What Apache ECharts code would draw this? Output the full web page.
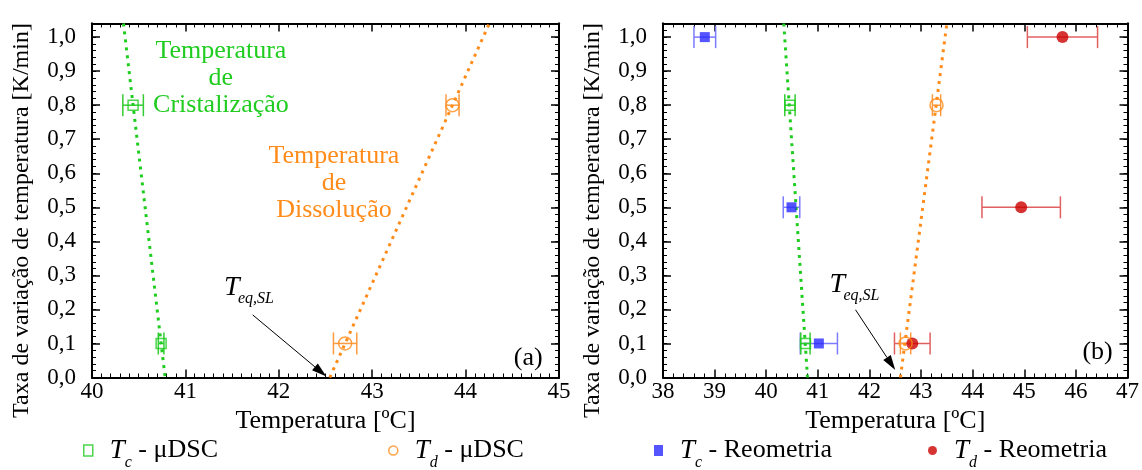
<!DOCTYPE html>
<html>
<head>
<meta charset="utf-8">
<title>Taxa de variação de temperatura</title>
<script src="https://cdn.jsdelivr.net/npm/echarts@6/dist/echarts.min.js"></script>
<style>
  html, body { margin: 0; padding: 0; background: #fff; }
  #chart { width: 1142px; height: 470px; }
</style>
</head>
<body>
<div id="chart"></div>
<script>
// taxas de aquecimento / resfriamento [K/min]
var rateDsc = [0.8, 0.1];
var rateReo = [1.0, 0.5, 0.1];

// painel (a) - uDSC
var tcDscA = [40.44, 40.74];
var tcDscErrA = [0.11, 0.03];
var tdDscA = [43.86, 42.71];
var tdDscErrA = [0.07, 0.125];
var tcFitA = [[40.337, 1.04], [40.783, 0]];
var tdFitA = [[42.546, 0], [44.254, 1.04]];

// painel (b) - uDSC + reometria
var tcDscB = [40.46, 40.76];
var tcDscErrB = [0.1, 0.09];
var tdDscB = [43.3, 42.7];
var tdDscErrB = [0.08, 0.1];
var tcReo = [38.81, 40.49, 41.02];
var tcReoErr = [0.21, 0.16, 0.36];
var tdReo = [45.74, 44.94, 42.83];
var tdReoErr = [0.68, 0.76, 0.345];
var tcFitB = [[40.34, 1.04], [40.80, 0]];
var tdFitB = [[42.60, 0], [43.50, 1.04]];

// anotacoes (coordenadas de dados)
var arrowA = [[41.72, 0.184, 42.51, 0.003]];
var arrowB = [[41.73, 0.199, 42.50, 0.022]];
var teqA = [[41.413, 0.263]];
var teqB = [[41.224, 0.272]];

var xRangeA = [40, 45];
var xRangeB = [38, 47];
var yMax = 1.04;

var FONT = '"Liberation Serif", "Times New Roman", serif';
var GREEN = '#1fcc1f', ORANGE = '#ff8c1a', BLUE = '#2b2bff', RED = '#cc0000';

function pts(xs, ys) {
  return xs.map(function (x, i) { return [x, ys[i]]; });
}
function errPts(xs, ys, es) {
  return xs.map(function (x, i) { return [x, ys[i], es[i]]; });
}

// barra de erro horizontal
function errorBar(params, api) {
  var x = api.value(0), y = api.value(1), e = api.value(2);
  var lo = api.coord([x - e, y]);
  var hi = api.coord([x + e, y]);
  var st = { stroke: api.visual('color'), lineWidth: 1.5 };
  return {
    type: 'group',
    children: [
      { type: 'line', shape: { x1: lo[0], y1: lo[1], x2: hi[0], y2: hi[1] }, style: st },
      { type: 'line', shape: { x1: lo[0], y1: lo[1] - 11, x2: lo[0], y2: lo[1] + 11 }, style: st },
      { type: 'line', shape: { x1: hi[0], y1: hi[1] - 11, x2: hi[0], y2: hi[1] + 11 }, style: st }
    ]
  };
}

function arrow(params, api) {
  var p1 = api.coord([api.value(0), api.value(1)]);
  var p2 = api.coord([api.value(2), api.value(3)]);
  var dx = p2[0] - p1[0], dy = p2[1] - p1[1];
  var len = Math.sqrt(dx * dx + dy * dy);
  var ux = dx / len, uy = dy / len;
  var bx = p2[0] - ux * 15, by = p2[1] - uy * 15;
  return {
    type: 'group',
    children: [
      { type: 'line', shape: { x1: p1[0], y1: p1[1], x2: bx, y2: by }, style: { stroke: '#000', lineWidth: 1 } },
      { type: 'polygon', shape: { points: [[p2[0], p2[1]], [bx - uy * 4.5, by + ux * 4.5], [bx + uy * 4.5, by - ux * 4.5]] }, style: { fill: '#000' } }
    ]
  };
}

function teqLabel(params, api) {
  var p = api.coord([api.value(0), api.value(1)]);
  return {
    type: 'group',
    children: [
      { type: 'text', x: p[0], y: p[1], style: { text: 'T', fill: '#000', fontSize: 28, fontFamily: FONT, fontStyle: 'italic', align: 'left', verticalAlign: 'middle' } },
      { type: 'text', x: p[0] + 14, y: p[1] + 11, style: { text: 'eq,SL', fill: '#000', fontSize: 16, fontFamily: FONT, fontStyle: 'italic', align: 'left', verticalAlign: 'middle' } }
    ]
  };
}

function textLabel(params, api) {
  var p = api.coord([api.value(0), api.value(1)]);
  var it = params.context.items[params.dataIndex];
  return {
    type: 'text', x: p[0], y: p[1],
    style: { text: it.text, fill: it.color, fontSize: it.size, lineHeight: 27, fontFamily: FONT, align: 'center', verticalAlign: 'middle' }
  };
}

function xAxesFor(g, range, minorSplit) {
  var base = {
    gridIndex: g, type: 'value', min: range[0], max: range[1], interval: 1,
    splitLine: { show: false },
    axisLine: { show: true, onZero: false, lineStyle: { color: '#000', width: 2 } },
    axisTick: { inside: true, length: 8, lineStyle: { color: '#000', width: 1.5 } },
    minorTick: { show: true, splitNumber: minorSplit, length: 4, lineStyle: { color: '#000', width: 1 } }
  };
  return [
    Object.assign({}, base, {
      position: 'bottom',
      axisLabel: { color: '#000', fontSize: 23, fontFamily: FONT, margin: 3 },
      name: 'Temperatura [ºC]', nameLocation: 'middle', nameGap: 24,
      nameTextStyle: { color: '#000', fontSize: 26, fontFamily: FONT }
    }),
    Object.assign({}, base, { position: 'top', axisLabel: { show: false } })
  ];
}

function yAxesFor(g) {
  var base = {
    gridIndex: g, type: 'value', min: 0, max: yMax,
    splitLine: { show: false },
    axisLine: { show: true, onZero: false, lineStyle: { color: '#000', width: 2 } },
    axisLabel: { show: false }
  };
  var minor = { interval: 0.02, axisTick: { inside: true, length: 4, lineStyle: { color: '#000', width: 1 } } };
  var major = { interval: 0.1, axisTick: { inside: true, length: 8, lineStyle: { color: '#000', width: 1.5 } } };
  return [
    Object.assign({}, base, minor, {
      position: 'left',
      axisLabel: {
        color: '#000', fontSize: 23, fontFamily: FONT, margin: 16,
        formatter: function (v) {
          if (Math.abs(v * 10 - Math.round(v * 10)) > 1e-6) return '';
          return v.toFixed(1).replace('.', ',');
        }
      },
      name: 'Taxa de variação de temperatura [K/min]', nameLocation: 'middle', nameGap: 58,
      nameTextStyle: { color: '#000', fontSize: 24, fontFamily: FONT, padding: [0, 40, 0, 0] }
    }),
    Object.assign({}, base, major, { position: 'left' }),
    Object.assign({}, base, minor, { position: 'right' }),
    Object.assign({}, base, major, { position: 'right' })
  ];
}

function fitLine(data, color, xi, yi) {
  return {
    type: 'line', data: data, xAxisIndex: xi, yAxisIndex: yi,
    showSymbol: false, silent: true,
    lineStyle: { color: color, width: 3, type: [3, 5] }
  };
}
function bars(data, color, xi, yi) {
  return {
    type: 'custom', data: data, xAxisIndex: xi, yAxisIndex: yi,
    renderItem: errorBar, itemStyle: { color: color }, silent: true,
    encode: { x: 0, y: 1 }
  };
}
function marks(name, data, symbol, size, style, xi, yi) {
  return {
    type: 'scatter', name: name, data: data, xAxisIndex: xi, yAxisIndex: yi,
    symbol: symbol, symbolSize: size, itemStyle: style, z: 5
  };
}

var openSq = { color: 'rgba(0,0,0,0)', borderColor: GREEN, borderWidth: 1.5 };
var openCi = { color: 'rgba(0,0,0,0)', borderColor: ORANGE, borderWidth: 1.5 };
var fullSq = { color: BLUE };
var fullCi = { color: RED };

var textsA = [
  { text: 'Temperatura\nde\nCristalização', color: GREEN, size: 26 },
  { text: 'Temperatura\nde\nDissolução', color: ORANGE, size: 26 },
  { text: '(a)', color: '#000', size: 26 }
];
var textPosA = [[41.38, 0.88], [42.59, 0.571], [44.67, 0.057]];
var textsB = [{ text: '(b)', color: '#000', size: 26 }];
var textPosB = [[46.42, 0.075]];

function texts(items, pos, xi, yi) {
  return {
    type: 'custom', data: pos, xAxisIndex: xi, yAxisIndex: yi, silent: true, z: 6,
    renderItem: function (params, api) {
      params.context.items = items;
      return textLabel(params, api);
    }
  };
}
function custom(render, data, xi, yi) {
  return { type: 'custom', data: data, xAxisIndex: xi, yAxisIndex: yi, renderItem: render, silent: true, z: 6 };
}

var legendItems = [
  { name: 'Tc μDSC', sub: 'c', text: ' - μDSC', icon: 'rect', left: 83, style: { color: '#fff', borderColor: GREEN, borderWidth: 1.5 } },
  { name: 'Td μDSC', sub: 'd', text: ' - μDSC', icon: 'circle', left: 388, style: { color: '#fff', borderColor: ORANGE, borderWidth: 1.5 } },
  { name: 'Tc Reometria', sub: 'c', text: ' - Reometria', icon: 'rect', left: 654, style: { color: BLUE } },
  { name: 'Td Reometria', sub: 'd', text: ' - Reometria', icon: 'circle', left: 928, style: { color: RED } }
];

var chart = echarts.init(document.getElementById('chart'), null, { renderer: 'canvas' });

var option = {
  animation: false,
  textStyle: { fontFamily: FONT },
  grid: [
    { left: 92, top: 23.5, width: 467, height: 354 },
    { left: 663, top: 23.5, width: 466, height: 354 }
  ],
  xAxis: xAxesFor(0, xRangeA, 10).concat(xAxesFor(1, xRangeB, 5)),
  yAxis: yAxesFor(0).concat(yAxesFor(1)),
  legend: legendItems.map(function (it) {
    return {
      data: [{ name: it.name, icon: it.icon, itemStyle: it.style }],
      left: it.left, top: 437, padding: 0,
      itemWidth: 9, itemHeight: 11, selectedMode: false,
      formatter: function () { return '{t|T}{s|' + it.sub + '}{n|' + it.text + '}'; },
      textStyle: {
        rich: {
          t: { fontFamily: FONT, fontStyle: 'italic', fontSize: 27, lineHeight: 40, color: '#000', padding: [0, 0, 0, 12] },
          s: { fontFamily: FONT, fontStyle: 'italic', fontSize: 16, lineHeight: 15, color: '#000', verticalAlign: 'bottom' },
          n: { fontFamily: FONT, fontSize: 26, lineHeight: 40, color: '#000' }
        }
      }
    };
  }),
  series: [
    // painel (a)
    fitLine(tcFitA, GREEN, 0, 0),
    fitLine(tdFitA, ORANGE, 0, 0),
    bars(errPts(tcDscA, rateDsc, tcDscErrA), '#33cc33', 0, 0),
    bars(errPts(tdDscA, rateDsc, tdDscErrA), '#ff9a40', 0, 0),
    marks('Tc μDSC', pts(tcDscA, rateDsc), 'rect', 10, openSq, 0, 0),
    marks('Td μDSC', pts(tdDscA, rateDsc), 'circle', 13, openCi, 0, 0),
    custom(arrow, arrowA, 0, 0),
    custom(teqLabel, teqA, 0, 0),
    texts(textsA, textPosA, 0, 0),

    // painel (b)
    fitLine(tcFitB, GREEN, 2, 4),
    fitLine(tdFitB, ORANGE, 2, 4),
    bars(errPts(tcReo, rateReo, tcReoErr), '#7b7bff', 2, 4),
    bars(errPts(tdReo, rateReo, tdReoErr), '#e06060', 2, 4),
    marks('Tc Reometria', pts(tcReo, rateReo), 'rect', 10, fullSq, 2, 4),
    marks('Td Reometria', pts(tdReo, rateReo), 'circle', 12, fullCi, 2, 4),
    bars(errPts(tcDscB, rateDsc, tcDscErrB), '#33cc33', 2, 4),
    bars(errPts(tdDscB, rateDsc, tdDscErrB), '#ff9a40', 2, 4),
    marks('Tc μDSC', pts(tcDscB, rateDsc), 'rect', 10, openSq, 2, 4),
    marks('Td μDSC', pts(tdDscB, rateDsc), 'circle', 13, openCi, 2, 4),
    custom(arrow, arrowB, 2, 4),
    custom(teqLabel, teqB, 2, 4),
    texts(textsB, textPosB, 2, 4)
  ]
};

chart.setOption(option);
window.addEventListener('resize', chart.resize);
</script>
</body>
</html>
